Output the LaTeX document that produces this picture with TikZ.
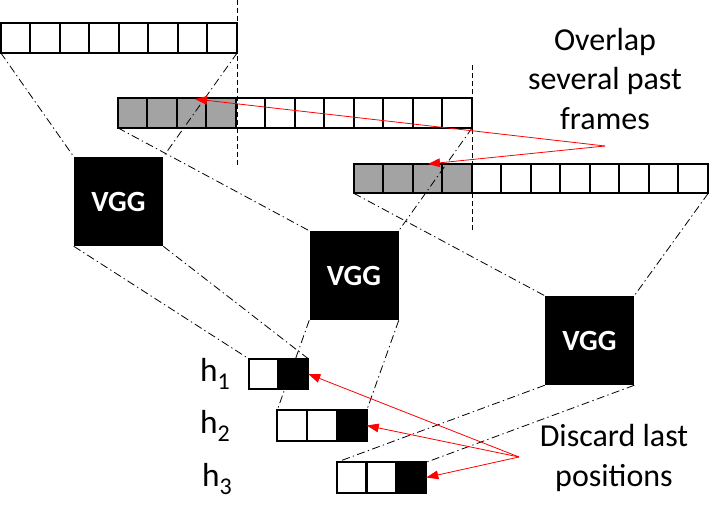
\documentclass[tikz,border=0pt]{standalone}
\usepackage{fontspec}
\setmainfont{Carlito}
\usetikzlibrary{arrows.meta,calc}
\tikzset{
  rowbox/.style={inner sep=0pt, minimum height=29*0.75pt},
  border/.style={line width=1.7pt, draw=black},
  cellfill/.style={fill=black!36},
  vgg/.style={fill=black, inner sep=0pt, minimum width=89*0.75pt, minimum height=89*0.75pt,
    text=white, font=\bfseries\fontsize{22}{26}\selectfont},
  proj/.style={line width=0.6pt, dash pattern=on 6pt off 2.5pt on 1pt off 2.5pt},
  vdash/.style={line width=0.7pt, dash pattern=on 3.5pt off 2.5pt},
  redarrow/.style={red, line width=0.6pt, -{Triangle[length=9pt,width=6.5pt]}},
  lbl/.style={align=center, font=\fontsize{24}{29.5}\selectfont},
  hlbl/.style={font=\fontsize{25}{28}\selectfont, inner sep=0pt}
}
\newcommand{\hsub}[1]{h\raisebox{-6pt}{\fontsize{18}{18}\selectfont #1}}
\begin{document}
\begin{tikzpicture}[x=0.75pt, y=-0.75pt]
\useasboundingbox (0,0) rectangle (719,518);
% frames
\path node[rowbox, minimum width=236*0.75pt] (f1) at (119,38) {};
\path node[rowbox, minimum width=354*0.75pt] (f2) at (295,113) {};
\path node[rowbox, minimum width=354*0.75pt] (f3) at (531,178.5) {};
\fill[cellfill] (f2.north west) rectangle ($(f2.south west)+(118,0)$);
\fill[cellfill] (f3.north west) rectangle ($(f3.south west)+(118,0)$);
\foreach \i in {1,...,7}
  \draw[border] ($(f1.north west)+(\i*29.5,0)$) -- ($(f1.south west)+(\i*29.5,0)$);
\foreach \f in {f2,f3}
  \foreach \i in {1,...,11}
    \draw[border] ($(\f.north west)+(\i*29.5,0)$) -- ($(\f.south west)+(\i*29.5,0)$);
\foreach \f in {f1,f2,f3}
  \draw[border] (\f.north west) rectangle (\f.south east);
% dashed verticals
\coordinate (d1a) at (237,0);
\coordinate (d1b) at (237,165);
\coordinate (d2a) at (472,65);
\coordinate (d2b) at (472,230);
\draw[vdash] (d1a) -- (d1b);
\draw[vdash] (d2a) -- (d2b);
% VGG boxes
\node[vgg] (v1) at (118.5,201.5) {VGG};
\node[vgg] (v2) at (354,275.5) {VGG};
\node[vgg] (v3) at (589.5,340.5) {VGG};
% h outputs
\path node[rowbox, minimum width=59*0.75pt, minimum height=30*0.75pt] (h1) at (278.5,374) {};
\path node[rowbox, minimum width=89*0.75pt, minimum height=30*0.75pt] (h2) at (322,425.5) {};
\path node[rowbox, minimum width=89*0.75pt, minimum height=30*0.75pt] (h3) at (381.5,477.5) {};
\fill[black] ($(h1.north east)+(-29.5,0)$) rectangle (h1.south east);
\fill[black] ($(h2.north east)+(-29.7,0)$) rectangle (h2.south east);
\fill[black] ($(h3.north east)+(-29.7,0)$) rectangle (h3.south east);
\draw[border] ($(h1.north west)+(29.5,0)$) -- ($(h1.south west)+(29.5,0)$);
\foreach \i in {1,2}{
  \draw[border] ($(h2.north west)+(\i*29.7,0)$) -- ($(h2.south west)+(\i*29.7,0)$);
  \draw[border] ($(h3.north west)+(\i*29.7,0)$) -- ($(h3.south west)+(\i*29.7,0)$);}
\foreach \h in {h1,h2,h3}
  \draw[border] (\h.north west) rectangle (\h.south east);
\node[hlbl] (l1) at (215,374) {\hsub{1}};
\node[hlbl] (l2) at (215,426) {\hsub{2}};
\node[hlbl] (l3) at (217,479) {\hsub{3}};
% projection lines
\draw[proj] (f1.south west) -- (v1.north west);
\draw[proj] (f1.south east) -- (v1.north east);
\draw[proj] (f2.south west) -- (v2.north west);
\draw[proj] (f2.south east) -- (v2.north east);
\draw[proj] (f3.south west) -- (v3.north west);
\draw[proj] (f3.south east) -- (v3.north east);
\draw[proj] (v1.south west) -- (h1.north west);
\draw[proj] (v1.south east) -- (h1.north east);
\draw[proj] (v2.south west) -- (h2.north west);
\draw[proj] (v2.south east) -- (h2.north east);
\draw[proj] (v3.south west) -- (h3.north west);
\draw[proj] (v3.south east) -- (h3.north east);
% texts
\node[lbl] (t1) at (605,79) {Overlap\\several past\\frames};
\node[lbl] (t2) at (614,458) {Discard last\\positions};
% red arrows
\coordinate (o1) at (605,146);
\coordinate (o2) at (519,457);
\coordinate (a1) at (195,99);
\coordinate (a2) at (428,164);
\draw[redarrow] (o1) -- (a1);
\draw[redarrow] (o1) -- (a2);
\draw[redarrow] (o2) -- (h1.east);
\draw[redarrow] (o2) -- (h2.east);
\draw[redarrow] (o2) -- (h3.east);
\end{tikzpicture}
\end{document}
